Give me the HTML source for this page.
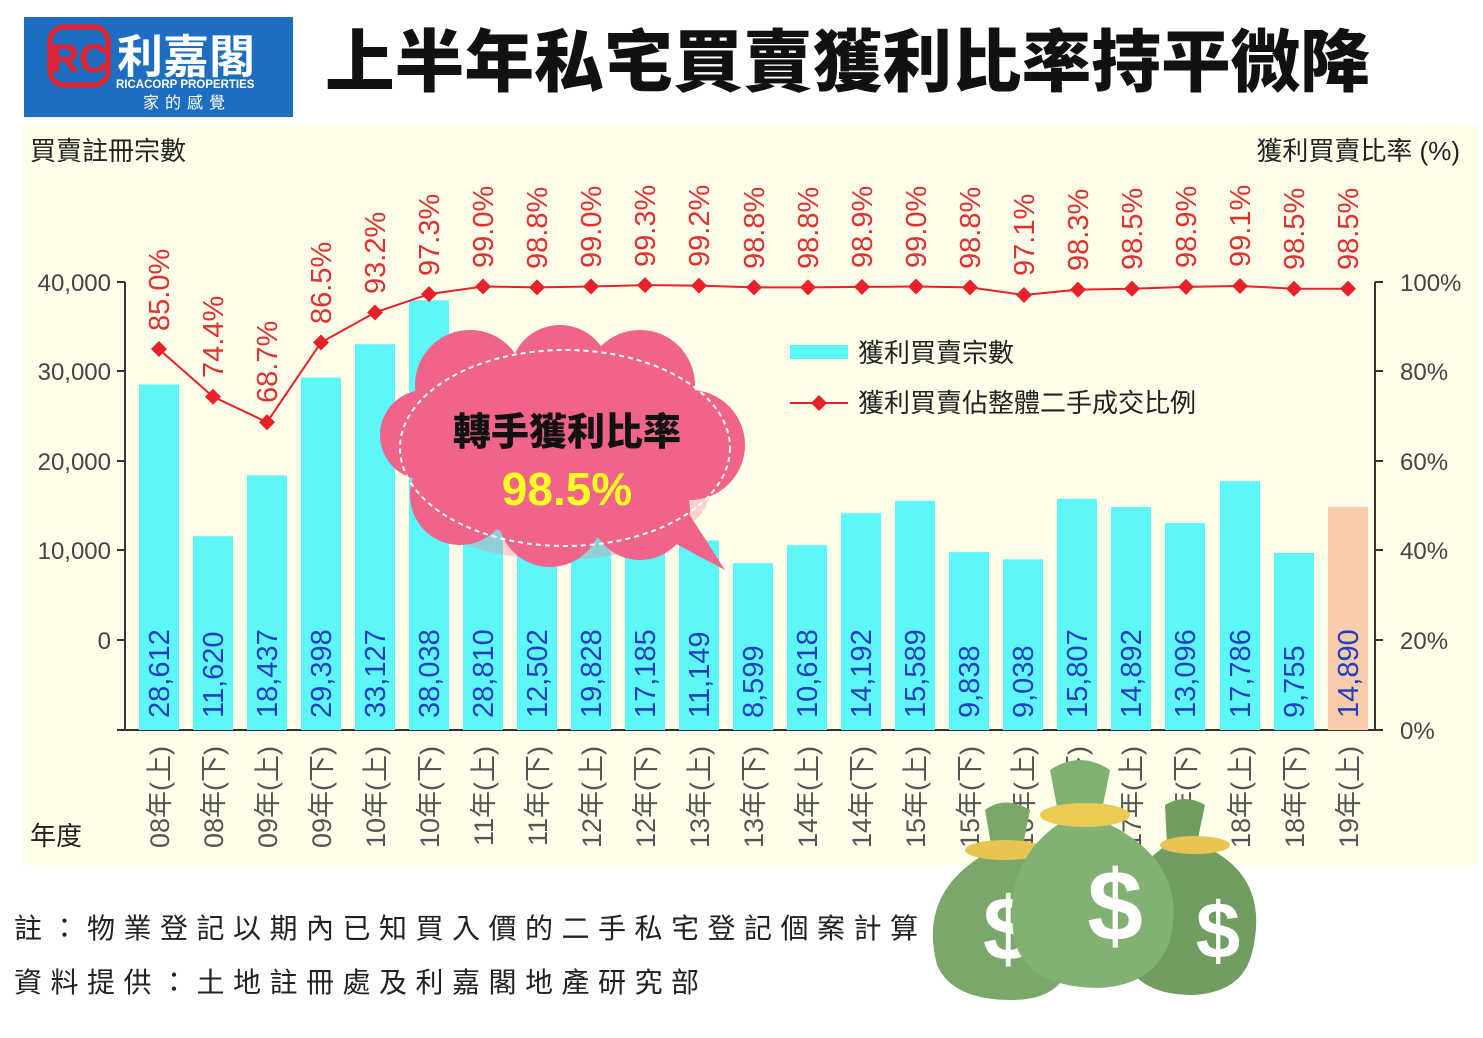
<!DOCTYPE html>
<html><head><meta charset="utf-8"><style>
body{margin:0;width:1483px;height:1033px;background:#fff;overflow:hidden;font-family:"Liberation Sans","Noto Sans CJK TC",sans-serif}
svg text{font-family:"Liberation Sans","Noto Sans CJK TC",sans-serif}
</style></head><body>
<svg width="1483" height="1033" xmlns="http://www.w3.org/2000/svg">
<rect x="24" y="17" width="269" height="100" fill="#1d6ec0"/>
<rect x="50" y="27" width="58" height="58" rx="14" fill="none" stroke="#e8202a" stroke-width="5"/>
<text x="79" y="72" font-size="40" font-weight="bold" fill="#e8202a" text-anchor="middle" font-family="Liberation Serif">RC</text>
<text x="117" y="73" font-size="46" font-weight="bold" fill="#fff" font-family="Noto Serif CJK SC">利嘉閣</text>
<text x="116" y="88" font-size="11.5" font-weight="bold" fill="#fff" font-family="Liberation Serif">RICACORP PROPERTIES</text>
<text x="143" y="108" font-size="16" fill="#fff" letter-spacing="6">家的感覺</text>
<text x="325" y="86" font-size="68" font-weight="900" fill="#111" textLength="1045" lengthAdjust="spacingAndGlyphs">上半年私宅買賣獲利比率持平微降</text>
<rect x="22" y="125" width="1456" height="740" fill="#fffeea"/>
<text x="30" y="160" font-size="26" fill="#222">買賣註冊宗數</text>
<text x="1460" y="160" font-size="26" fill="#222" text-anchor="end">獲利買賣比率 (%)</text>
<text x="30" y="845" font-size="26" fill="#222">年度</text>
<g stroke="#333" stroke-width="2" fill="none">
<path d="M125 282V730H1375V282"/>
<path d="M117 282H125M117 371H125M117 461H125M117 550H125M117 640H125M117 730H125"/>
<path d="M1375 282H1383M1375 371H1383M1375 461H1383M1375 550H1383M1375 640H1383M1375 730H1383"/>
</g>
<g font-size="24" fill="#444" text-anchor="end">
<text x="111" y="291">40,000</text><text x="111" y="380">30,000</text><text x="111" y="470">20,000</text><text x="111" y="559">10,000</text><text x="111" y="649">0</text>
</g>
<g font-size="24" fill="#444">
<text x="1400" y="291">100%</text><text x="1400" y="380">80%</text><text x="1400" y="470">60%</text><text x="1400" y="559">40%</text><text x="1400" y="649">20%</text><text x="1400" y="739">0%</text>
</g>
<g fill="#5ef7f7">
<rect x="139" y="384.5" width="40" height="345.5"/>
<rect x="193" y="536.2" width="40" height="193.8"/>
<rect x="247" y="475.4" width="40" height="254.6"/>
<rect x="301" y="377.5" width="40" height="352.5"/>
<rect x="355" y="344.2" width="40" height="385.8"/>
<rect x="409" y="300.3" width="40" height="429.7"/>
<rect x="463" y="382.7" width="40" height="347.3"/>
<rect x="517" y="528.4" width="40" height="201.6"/>
<rect x="571" y="462.9" width="40" height="267.1"/>
<rect x="625" y="486.5" width="40" height="243.5"/>
<rect x="679" y="540.4" width="40" height="189.6"/>
<rect x="733" y="563.2" width="40" height="166.8"/>
<rect x="787" y="545.2" width="40" height="184.8"/>
<rect x="841" y="513.3" width="40" height="216.7"/>
<rect x="895" y="500.8" width="40" height="229.2"/>
<rect x="949" y="552.1" width="40" height="177.9"/>
<rect x="1003" y="559.3" width="40" height="170.7"/>
<rect x="1057" y="498.8" width="40" height="231.2"/>
<rect x="1111" y="507" width="40" height="223"/>
<rect x="1165" y="523.1" width="40" height="206.9"/>
<rect x="1220" y="481.2" width="40" height="248.8"/>
<rect x="1274" y="552.9" width="40" height="177.1"/>
</g>
<rect x="1328" y="507" width="40" height="223" fill="#f8ccaa"/>
<g font-size="29" fill="#1f3fc0">
<text transform="translate(169,718) rotate(-90)">28,612</text>
<text transform="translate(223,718) rotate(-90)">11,620</text>
<text transform="translate(277,718) rotate(-90)">18,437</text>
<text transform="translate(331,718) rotate(-90)">29,398</text>
<text transform="translate(385,718) rotate(-90)">33,127</text>
<text transform="translate(439,718) rotate(-90)">38,038</text>
<text transform="translate(493,718) rotate(-90)">28,810</text>
<text transform="translate(547,718) rotate(-90)">12,502</text>
<text transform="translate(601,718) rotate(-90)">19,828</text>
<text transform="translate(655,718) rotate(-90)">17,185</text>
<text transform="translate(709,718) rotate(-90)">11,149</text>
<text transform="translate(763,718) rotate(-90)">8,599</text>
<text transform="translate(817,718) rotate(-90)">10,618</text>
<text transform="translate(871,718) rotate(-90)">14,192</text>
<text transform="translate(925,718) rotate(-90)">15,589</text>
<text transform="translate(979,718) rotate(-90)">9,838</text>
<text transform="translate(1033,718) rotate(-90)">9,038</text>
<text transform="translate(1087,718) rotate(-90)">15,807</text>
<text transform="translate(1141,718) rotate(-90)">14,892</text>
<text transform="translate(1195,718) rotate(-90)">13,096</text>
<text transform="translate(1250,718) rotate(-90)">17,786</text>
<text transform="translate(1304,718) rotate(-90)">9,755</text>
<text transform="translate(1358,718) rotate(-90)">14,890</text>
</g>
<g font-size="27" fill="#555" text-anchor="end">
<text transform="translate(169,746) rotate(-90)">08年(上)</text>
<text transform="translate(223,746) rotate(-90)">08年(下)</text>
<text transform="translate(277,746) rotate(-90)">09年(上)</text>
<text transform="translate(331,746) rotate(-90)">09年(下)</text>
<text transform="translate(385,746) rotate(-90)">10年(上)</text>
<text transform="translate(439,746) rotate(-90)">10年(下)</text>
<text transform="translate(493,746) rotate(-90)">11年(上)</text>
<text transform="translate(547,746) rotate(-90)">11年(下)</text>
<text transform="translate(601,746) rotate(-90)">12年(上)</text>
<text transform="translate(655,746) rotate(-90)">12年(下)</text>
<text transform="translate(709,746) rotate(-90)">13年(上)</text>
<text transform="translate(763,746) rotate(-90)">13年(下)</text>
<text transform="translate(817,746) rotate(-90)">14年(上)</text>
<text transform="translate(871,746) rotate(-90)">14年(下)</text>
<text transform="translate(925,746) rotate(-90)">15年(上)</text>
<text transform="translate(979,746) rotate(-90)">15年(下)</text>
<text transform="translate(1033,746) rotate(-90)">16年(上)</text>
<text transform="translate(1087,746) rotate(-90)">16年(下)</text>
<text transform="translate(1141,746) rotate(-90)">17年(上)</text>
<text transform="translate(1195,746) rotate(-90)">17年(下)</text>
<text transform="translate(1250,746) rotate(-90)">18年(上)</text>
<text transform="translate(1304,746) rotate(-90)">18年(下)</text>
<text transform="translate(1358,746) rotate(-90)">19年(上)</text>
</g>
<polyline fill="none" stroke="#e8202a" stroke-width="2" points="159,349.2 213,396.7 267,422.2 321,342.5 375,312.5 429,294.1 483,286.5 537,287.4 591,286.5 645,285.1 699,285.6 754,287.4 808,287.4 862,286.9 916,286.5 970,287.4 1024,295 1078,289.6 1132,288.7 1186,286.9 1240,286 1294,288.7 1348,288.7"/>
<g fill="#e8202a">
<path d="M159 341l8 8-8 8-8-8z"/><path d="M213 388.7l8 8-8 8-8-8z"/><path d="M267 414.2l8 8-8 8-8-8z"/><path d="M321 334.5l8 8-8 8-8-8z"/><path d="M375 304.5l8 8-8 8-8-8z"/><path d="M429 286.1l8 8-8 8-8-8z"/><path d="M483 278.5l8 8-8 8-8-8z"/><path d="M537 279.4l8 8-8 8-8-8z"/><path d="M591 278.5l8 8-8 8-8-8z"/><path d="M645 277.1l8 8-8 8-8-8z"/><path d="M699 277.6l8 8-8 8-8-8z"/><path d="M754 279.4l8 8-8 8-8-8z"/><path d="M808 279.4l8 8-8 8-8-8z"/><path d="M862 278.9l8 8-8 8-8-8z"/><path d="M916 278.5l8 8-8 8-8-8z"/><path d="M970 279.4l8 8-8 8-8-8z"/><path d="M1024 287l8 8-8 8-8-8z"/><path d="M1078 281.6l8 8-8 8-8-8z"/><path d="M1132 280.7l8 8-8 8-8-8z"/><path d="M1186 278.9l8 8-8 8-8-8z"/><path d="M1240 278l8 8-8 8-8-8z"/><path d="M1294 280.7l8 8-8 8-8-8z"/><path d="M1348 280.7l8 8-8 8-8-8z"/>
</g>
<g font-size="29" fill="#e03030">
<text transform="translate(169,331) rotate(-90)">85.0%</text>
<text transform="translate(223,378) rotate(-90)">74.4%</text>
<text transform="translate(277,403) rotate(-90)">68.7%</text>
<text transform="translate(331,324) rotate(-90)">86.5%</text>
<text transform="translate(385,294) rotate(-90)">93.2%</text>
<text transform="translate(439,276) rotate(-90)">97.3%</text>
<text transform="translate(493,268) rotate(-90)">99.0%</text>
<text transform="translate(547,269) rotate(-90)">98.8%</text>
<text transform="translate(601,268) rotate(-90)">99.0%</text>
<text transform="translate(655,267) rotate(-90)">99.3%</text>
<text transform="translate(709,267) rotate(-90)">99.2%</text>
<text transform="translate(764,269) rotate(-90)">98.8%</text>
<text transform="translate(818,269) rotate(-90)">98.8%</text>
<text transform="translate(872,268) rotate(-90)">98.9%</text>
<text transform="translate(926,268) rotate(-90)">99.0%</text>
<text transform="translate(980,269) rotate(-90)">98.8%</text>
<text transform="translate(1034,276) rotate(-90)">97.1%</text>
<text transform="translate(1088,271) rotate(-90)">98.3%</text>
<text transform="translate(1142,270) rotate(-90)">98.5%</text>
<text transform="translate(1196,268) rotate(-90)">98.9%</text>
<text transform="translate(1250,267) rotate(-90)">99.1%</text>
<text transform="translate(1304,270) rotate(-90)">98.5%</text>
<text transform="translate(1358,270) rotate(-90)">98.5%</text>
</g>
<rect x="790" y="345" width="58" height="14" fill="#5ef7f7"/>
<text x="858" y="362" font-size="26" fill="#222">獲利買賣宗數</text>
<line x1="790" y1="403" x2="848" y2="403" stroke="#e8202a" stroke-width="2"/>
<path d="M819 395l8 8-8 8-8-8z" fill="#e8202a"/>
<text x="858" y="412" font-size="26" fill="#222">獲利買賣佔整體二手成交比例</text>
<g fill="#f0849e" opacity="0.35"><ellipse cx="560" cy="490" rx="150" ry="70"/></g>
<g fill="#ef6488">
<circle cx="470" cy="385" r="55"/><circle cx="560" cy="375" r="50"/><circle cx="640" cy="385" r="55"/>
<circle cx="690" cy="445" r="55"/><circle cx="640" cy="510" r="50"/><circle cx="550" cy="515" r="52"/>
<circle cx="460" cy="495" r="50"/><circle cx="425" cy="435" r="45"/>
<ellipse cx="565" cy="445" rx="150" ry="95"/>
<path d="M680 500 L725 570 L650 530z"/>
</g>
<ellipse cx="565" cy="448" rx="165" ry="98" fill="none" stroke="#fff" stroke-width="2" stroke-dasharray="5 4"/>
<text x="567" y="445" font-size="38" font-weight="900" fill="#111" text-anchor="middle">轉手獲利比率</text>
<text x="567" y="505" font-size="46" font-weight="900" fill="#ffff22" text-anchor="middle">98.5%</text>
<text x="14" y="938" font-size="28" fill="#222" letter-spacing="8.5">註：物業登記以期內已知買入價的二手私宅登記個案計算</text>
<text x="14" y="992" font-size="28" fill="#222" letter-spacing="8.5">資料提供：土地註冊處及利嘉閣地產研究部</text>
<g>
<path d="M985 810 q20-15 45 0 l-8 40 q75 30 50 110 q-10 40-60 40 q-60 0-75-35 q-20-75 55-115z" fill="#7aa86a"/>
<ellipse cx="1005" cy="850" rx="40" ry="10" fill="#e8c550"/>
<text x="1008" y="960" font-size="90" font-weight="bold" fill="#fff" text-anchor="middle">$</text>
<path d="M1165 805 q20-12 40 0 l-8 38 q75 30 55 110 q-10 40-60 42 q-55 0-70-40 q-15-70 45-110z" fill="#6f9e60"/>
<ellipse cx="1195" cy="845" rx="35" ry="9" fill="#e8c550"/>
<text x="1218" y="958" font-size="80" font-weight="bold" fill="#fff" text-anchor="middle">$</text>
<path d="M1050 770 q30-20 60 0 l-10 50 q90 40 70 120 q-15 45-70 48 q-70 0-85-45 q-15-80 45-120z" fill="#82b272"/>
<ellipse cx="1085" cy="815" rx="45" ry="12" fill="#eccb55"/>
<text x="1115" y="940" font-size="100" font-weight="bold" fill="#fff" text-anchor="middle">$</text>
</g>
</svg>
</body></html>
